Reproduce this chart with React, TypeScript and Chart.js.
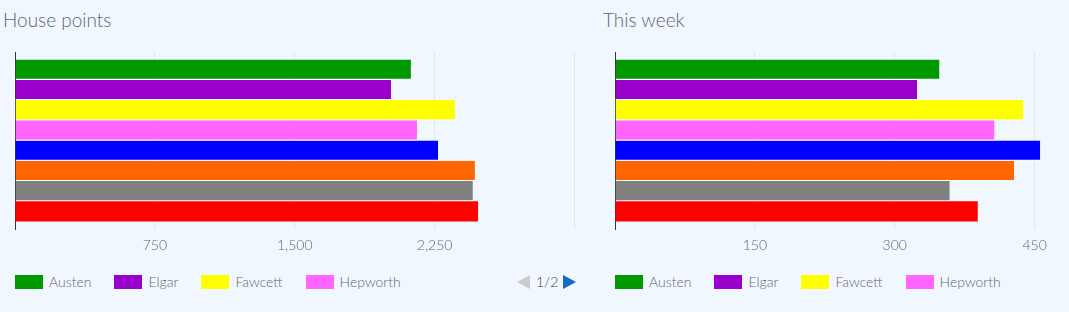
import React, { useEffect, useRef } from 'react';
import { Chart, registerables } from 'chart.js';

Chart.register(...registerables);

// ---- data ----
const houseNames = ['Austen', 'Elgar', 'Fawcett', 'Hepworth', 'House 5', 'House 6', 'House 7', 'House 8'];
const houseColors = ['#009900', '#9900CC', '#FFFF00', '#FF66FF', '#0000FF', '#FF6600', '#808080', '#FF0000'];
const totalPoints = [2123, 2016, 2359, 2156, 2269, 2466, 2455, 2483];
const weekPoints = [348, 324, 438, 407, 456, 428, 359, 389];
const totalTicks = [0, 750, 1500, 2250, 3000];
const weekTicks = [0, 150, 300, 450, 600];
const panelTitles = ['House points', 'This week'];
const legendPageSize = 4;
const legendPage = 1;

const BG = '#F0F7FF';
const GRID = '#D8E9F8';
const FONT = 'Lato, "Noto Sans", sans-serif';
const TEXT = '#666666';

type PanelProps = { title: string; values: number[]; ticks: number[]; left: number };

function BarPanel({ title, values, ticks, left }: PanelProps) {
  const ref = useRef<HTMLCanvasElement>(null);

  useEffect(() => {
    const chart = new Chart(ref.current as HTMLCanvasElement, {
      type: 'bar',
      data: {
        labels: [title],
        datasets: houseNames.map((name, i) => ({
          label: name,
          data: [values[i]],
          backgroundColor: houseColors[i],
          borderColor: '#ffffff',
          borderWidth: i < houseNames.length - 1 ? { top: 0, right: 0, bottom: 1, left: 0 } : 0,
          categoryPercentage: 0.915,
          barPercentage: 1,
        })),
      },
      options: {
        indexAxis: 'y',
        animation: false,
        responsive: false,
        maintainAspectRatio: false,
        events: [],
        layout: { padding: { left: 15, right: 25.5, top: 52, bottom: 6.2 } },
        plugins: {
          legend: { display: false },
          title: { display: false },
          tooltip: { enabled: false },
        },
        scales: {
          x: {
            type: 'linear',
            min: ticks[0],
            max: ticks[ticks.length - 1],
            afterBuildTicks: (s: any) => {
              s.ticks = ticks.map((v) => ({ value: v }));
            },
            grid: {
              color: (ctx: any) => (ctx.tick && ctx.tick.value === 0 ? 'rgba(0,0,0,0)' : GRID),
              drawTicks: false,
              lineWidth: 1,
            },
            border: { display: false },
            ticks: {
              padding: 8,
              color: TEXT,
              font: { family: FONT, size: 14, weight: '300' },
              maxRotation: 0,
              autoSkip: false,
              callback: (v: any, i: number, arr: any[]) =>
                i === 0 || i === arr.length - 1 ? '' : Number(v).toLocaleString('en-US'),
            },
          },
          y: {
            type: 'category',
            z: 1,
            grid: { display: false, drawTicks: false },
            border: { display: true, color: '#333333', width: 1 },
            ticks: { display: false },
          },
        },
      },
    } as any);
    return () => chart.destroy();
  }, []);

  const pageItems = houseNames
    .map((n, i) => ({ n, c: houseColors[i] }))
    .slice((legendPage - 1) * legendPageSize, legendPage * legendPageSize);
  const pages = Math.ceil(houseNames.length / legendPageSize);

  return (
    <div style={{ position: 'absolute', left, top: 0, width: 600, height: 312 }}>
      <div
        style={{
          position: 'absolute',
          left: 3,
          top: 10,
          fontFamily: FONT,
          fontWeight: 300,
          fontSize: 19,
          lineHeight: '19px',
          color: TEXT,
          whiteSpace: 'nowrap',
        }}
      >
        {title}
      </div>
      <canvas
        ref={ref}
        width={600}
        height={268}
        style={{ position: 'absolute', left: 0, top: 0, width: 600, height: 268, display: 'block' }}
      />
      <div
        style={{
          position: 'absolute',
          left: 15,
          top: 275,
          height: 14,
          display: 'flex',
          alignItems: 'center',
          fontFamily: FONT,
          fontWeight: 300,
          fontSize: 14,
          color: TEXT,
          whiteSpace: 'nowrap',
        }}
      >
        {pageItems.map((it) => (
          <div key={it.n} style={{ display: 'flex', alignItems: 'center', marginRight: 23 }}>
            <div style={{ width: 28, height: 14, background: it.c, marginRight: 6 }} />
            <span style={{ lineHeight: '14px' }}>{it.n}</span>
          </div>
        ))}
      </div>
      <div
        style={{
          position: 'absolute',
          left: 517,
          top: 275,
          height: 14,
          display: 'flex',
          alignItems: 'center',
          fontFamily: FONT,
          fontWeight: 300,
          fontSize: 14,
          color: '#444444',
          whiteSpace: 'nowrap',
        }}
      >
        <div
          style={{
            width: 0,
            height: 0,
            borderTop: '7px solid transparent',
            borderBottom: '7px solid transparent',
            borderRight: '13px solid #CCCCCC',
            marginRight: 6,
          }}
        />
        <span style={{ lineHeight: '14px' }}>{`${legendPage}/${pages}`}</span>
        <div
          style={{
            width: 0,
            height: 0,
            borderTop: '7px solid transparent',
            borderBottom: '7px solid transparent',
            borderLeft: '13px solid #1769C4',
            marginLeft: 5,
          }}
        />
      </div>
    </div>
  );
}

export default function App() {
  return (
    <div
      style={{
        position: 'fixed',
        left: 0,
        top: 0,
        width: 1069,
        height: 312,
        overflow: 'hidden',
        background: BG,
      }}
    >
      <BarPanel title={panelTitles[0]} values={totalPoints} ticks={totalTicks} left={0} />
      <BarPanel title={panelTitles[1]} values={weekPoints} ticks={weekTicks} left={600} />
    </div>
  );
}
